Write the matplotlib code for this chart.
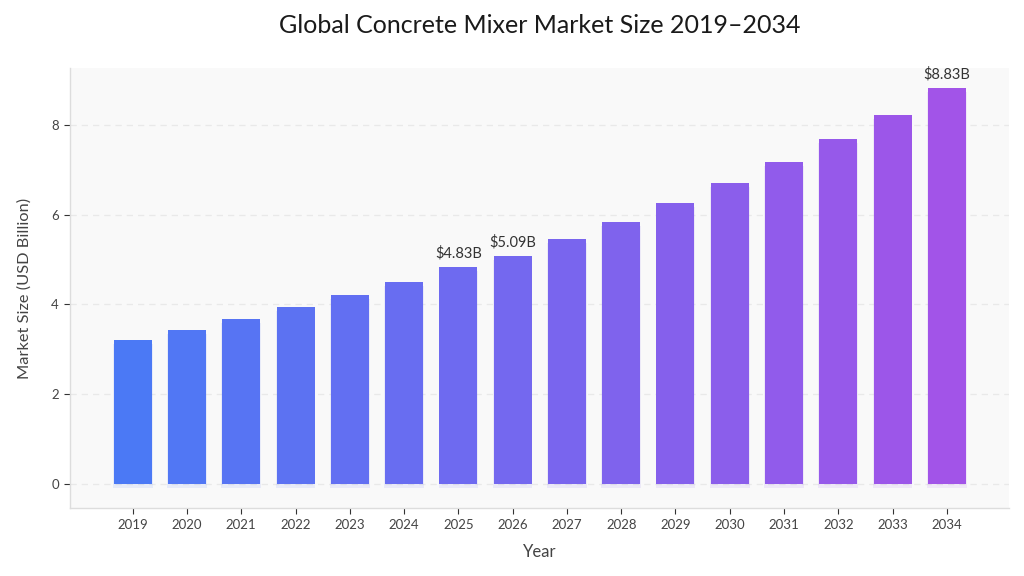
import matplotlib.pyplot as plt
from matplotlib.colors import LinearSegmentedColormap
import numpy as np

plt.rcParams['font.family'] = ['Lato', 'DejaVu Sans']

years = [2019, 2020, 2021, 2022, 2023, 2024, 2025, 2026,
         2027, 2028, 2029, 2030, 2031, 2032, 2033, 2034]
market_size = [3.20, 3.43, 3.68, 3.95, 4.22, 4.51, 4.83, 5.09,
               5.47, 5.84, 6.27, 6.71, 7.18, 7.69, 8.23, 8.83]
labelled_years = [2025, 2026, 2034]

cmap = LinearSegmentedColormap.from_list('bars', ['#4b79f5', '#a254e8'])
colors = [cmap(i / (len(years) - 1)) for i in range(len(years))]

fig = plt.figure(figsize=(10.24, 5.76), dpi=100)
ax = fig.add_axes([70 / 1024, 1 - 508 / 576, 939 / 1024, 440 / 576])
ax.set_facecolor('#f9f9f9')

x = np.arange(len(years))
ax.yaxis.grid(True, color='#e9e9e9', linestyle='--', linewidth=0.9, dashes=(5, 4))
ax.set_axisbelow(True)

# soft shadow under each bar
ax.bar(x, market_size, width=0.73, bottom=-0.09, color=colors, alpha=0.1, zorder=2)
ax.bar(x, market_size, width=0.70, color=colors, zorder=3)

for i, year in enumerate(years):
    if year in labelled_years:
        ax.annotate(f'${market_size[i]:.2f}B', (x[i], market_size[i]), xytext=(0, 4.5),
                    textcoords='offset points', ha='center', va='bottom',
                    fontsize=10.5, color='#333333', zorder=4)

ax.set_xlim(-1.155, 15 + 1.145)
ax.set_ylim(-0.535, 9.27)
ax.set_xticks(x, [str(y) for y in years])
ax.set_yticks([0, 2, 4, 6, 8])
ax.tick_params(axis='both', labelsize=9.5, labelcolor='#444444', length=4, width=0.8,
               color='#333333', pad=4)

for side in ['top', 'right']:
    ax.spines[side].set_visible(False)
for side in ['left', 'bottom']:
    ax.spines[side].set_color('#dddddd')
    ax.spines[side].set_linewidth(1)

ax.set_xlabel('Year', fontsize=12, color='#444444', labelpad=9)
ax.set_ylabel('Market Size (USD Billion)', fontsize=11.8, color='#444444', labelpad=14)
ax.set_title('Global Concrete Mixer Market Size 2019–2034', fontsize=18, color='#1a1a1a', pad=25)

plt.savefig('out.png', dpi=100)
